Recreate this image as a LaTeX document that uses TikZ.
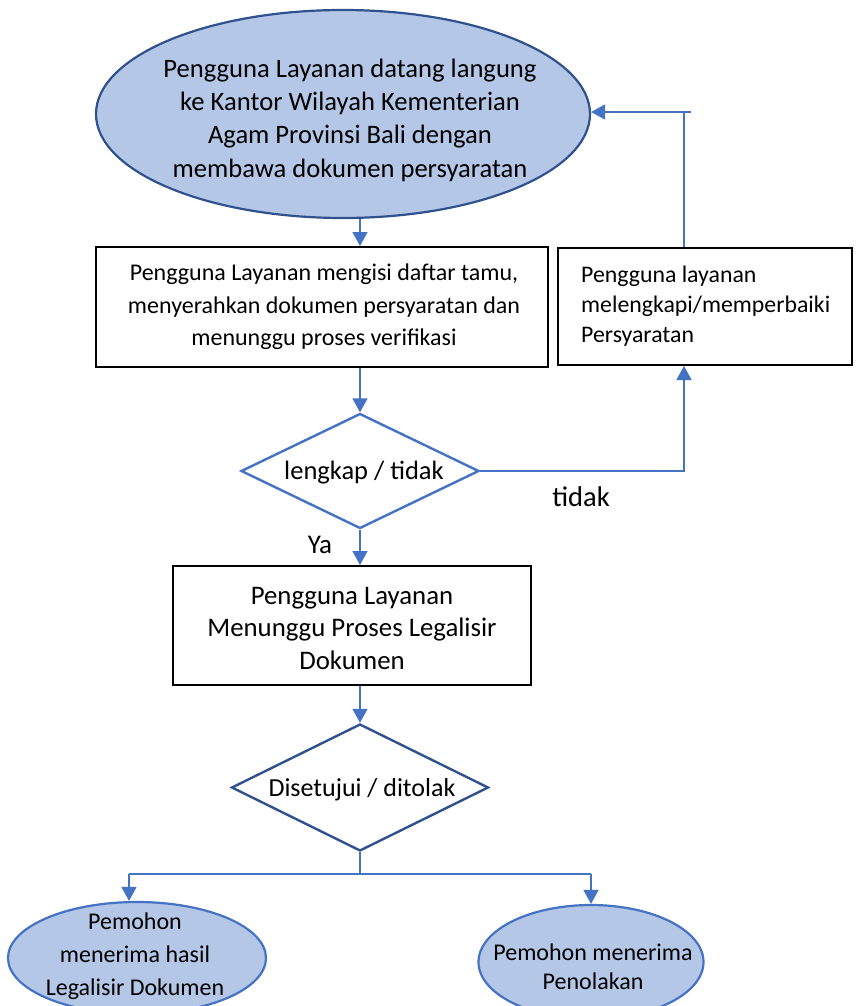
\documentclass[tikz,border=0pt]{standalone}
\usepackage{fontspec}
\setmainfont{Carlito}
\usetikzlibrary{shapes.geometric,arrows.meta}
\definecolor{lightfill}{HTML}{B4C7E7}
\definecolor{darkedge}{HTML}{2F528F}
\definecolor{flowblue}{HTML}{4472C4}
\begin{document}
\begin{tikzpicture}[x=1pt,y=-1pt,
  oval/.style={ellipse, draw=darkedge, fill=lightfill, line width=2.2pt, inner sep=0pt},
  plain/.style={inner sep=0pt, align=center},
  procbox/.style={rectangle, draw=black, line width=2pt, inner sep=0pt},
  decision/.style={diamond, draw=flowblue, line width=2.4pt, inner sep=0pt, align=center},
  flow/.style={draw=flowblue, line width=1.5pt},
  flowarrow/.style={flow, -{Triangle[length=14pt,width=15pt]}},
]
\useasboundingbox (0,0) rectangle (855,1006);

% start
\node[oval, minimum width=494pt, minimum height=208pt] (start) at (343,114) {};
\node[plain, font=\fontsize{26.6}{33.3}\selectfont] (startText) at (350,120)
  {Pengguna Layanan datang langung\\ke Kantor Wilayah Kementerian\\Agam Provinsi Bali dengan\\membawa dokumen persyaratan};

% registration
\node[procbox, minimum width=452pt, minimum height=120pt] (reg) at (322,307) {};
\node[plain, font=\fontsize{24}{32.5}\selectfont] (regText) at (324,307)
  {Pengguna Layanan mengisi daftar tamu,\\menyerahkan dokumen persyaratan dan\\menunggu proses verifikasi};

% completion box
\node[procbox, minimum width=294pt, minimum height=117pt] (fix) at (705,306.5) {};
\node[plain, align=left, anchor=west, font=\fontsize{23.8}{30}\selectfont] (fixText) at (581,306)
  {Pengguna layanan\\melengkapi/memperbaiki\\Persyaratan};

% first decision
\node[decision, aspect=2.07, minimum width=238pt, minimum height=115pt] (d1) at (360,471) {};
\node[plain, font=\fontsize{26.5}{30}\selectfont] (d1Text) at (364,473) {lengkap / tidak};

% legalisation wait
\node[procbox, minimum width=358pt, minimum height=119pt] (wait) at (352,625.5) {};
\node[plain, font=\fontsize{26.8}{32.5}\selectfont] (waitText) at (352,628)
  {Pengguna Layanan\\Menunggu Proses Legalisir\\Dokumen};

% second decision
\node[decision, draw=darkedge, aspect=2.02, minimum width=257pt, minimum height=127pt] (d2) at (360,787.5) {};
\node[plain, font=\fontsize{26}{30}\selectfont] (d2Text) at (362,790) {Disetujui / ditolak};

% outcomes
\node[oval, draw=flowblue, minimum width=258pt, minimum height=112pt] (endL) at (137,958) {};
\node[plain, font=\fontsize{24}{33}\selectfont] (endLText) at (135,956)
  {Pemohon\\menerima hasil\\Legalisir Dokumen};
\node[oval, draw=flowblue, minimum width=225pt, minimum height=114pt] (endR) at (591,962) {};
\node[plain, font=\fontsize{24}{29}\selectfont] (endRText) at (593,967)
  {Pemohon menerima\\Penolakan};

% branch labels
\node[plain, font=\fontsize{28.5}{32}\selectfont] (lblNo) at (581,497) {tidak};
\node[plain, font=\fontsize{27}{32}\selectfont] (lblYes) at (320,545) {Ya};

% connectors
\coordinate (loop) at (684,112);
\coordinate (stub) at (691,112);
\coordinate (split) at (360,874);
\coordinate (leftDrop) at (129,874);
\coordinate (rightDrop) at (591,874);

\draw[flowarrow] (start.south -| d1) -- (reg.north -| d1);
\draw[flowarrow] (reg.south -| d1) -- (d1.north);
\draw[flowarrow] (d1.east) -| (fix.south -| loop);
\draw[flow] (fix.north -| loop) -- (loop);
\draw[flowarrow] (stub) -- (start.east |- stub);
\draw[flowarrow] (d1.south) -- (wait.north -| d1);
\draw[flowarrow] (wait.south -| d1) -- (d2.north);
\draw[flow] (d2.south) -- (split);
\draw[flow] (leftDrop) -- (rightDrop);
\draw[flowarrow] (leftDrop) -- (leftDrop |- endL.north);
\draw[flowarrow] (rightDrop) -- (rightDrop |- endR.north);
\end{tikzpicture}
\end{document}
